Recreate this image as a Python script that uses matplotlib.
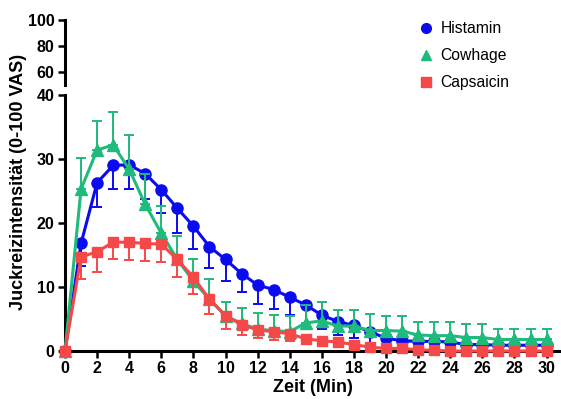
import numpy as np
import matplotlib
matplotlib.use("Agg")
import matplotlib.pyplot as plt
from matplotlib.lines import Line2D

plt.rcParams['font.family'] = ['Liberation Sans', 'DejaVu Sans']

# Zeit in Minuten
zeit = list(range(31))

histamin = [0, 16.8, 26.3, 29.0, 29.1, 27.7, 25.2, 22.3, 19.5, 16.3, 14.3,
            12.1, 10.3, 9.6, 8.4, 7.2, 5.6, 4.6, 4.0, 3.0, 2.0,
            1.6, 1.5, 1.5, 1.4, 1.0, 1.0, 0.9, 0.9, 0.9, 0.9]
histamin_err = [0, 3.5, 3.8, 3.7, 3.8, 3.9, 3.7, 3.8, 3.6, 3.4, 3.3,
                2.9, 3.0, 3.1, 2.8, 3.4, 2.2, 2.1, 2.0, 1.7, 1.3,
                1.2, 1.1, 1.1, 1.0, 0.9, 0.9, 0.8, 0.8, 0.8, 0.8]

cowhage = [0, 25.3, 31.4, 32.2, 28.4, 22.9, 18.4, 14.3, 10.9, 8.1, 5.5,
           4.3, 3.4, 3.2, 3.0, 4.4, 4.7, 3.9, 3.9, 3.2, 3.2,
           3.1, 2.5, 2.4, 2.4, 2.1, 2.1, 1.8, 1.8, 1.8, 1.8]
cowhage_err = [0, 4.8, 4.6, 5.1, 5.3, 4.8, 4.3, 3.7, 3.4, 3.1, 2.2,
               2.4, 2.5, 2.4, 2.4, 2.8, 3.0, 2.5, 2.5, 2.6, 2.3,
               2.3, 2.1, 2.1, 2.1, 2.1, 2.1, 1.7, 1.7, 1.6, 1.7]

capsaicin = [0, 14.7, 15.5, 17.0, 17.0, 16.8, 16.7, 14.3, 11.5, 8.1, 5.5,
             4.1, 3.3, 3.0, 2.7, 1.9, 1.6, 1.4, 1.0, 0.6, 0.4,
             0.4, 0.2, 0.1, 0.0, 0.0, 0.0, 0.0, 0.0, 0.0, 0.0]
capsaicin_err = [0, 3.5, 3.1, 2.7, 2.8, 2.8, 2.8, 2.8, 2.6, 2.3, 2.0,
                 1.6, 1.2, 1.3, 1.1, 0.8, 0.6, 0.5, 0.4, 0.3, 0.2,
                 0.2, 0.1, 0.1, 0, 0, 0, 0, 0, 0, 0]

namen = ['Histamin', 'Cowhage', 'Capsaicin']
farben = ['#0b0bf0', '#1fba7c', '#f54848']
marker = ['o', '^', 's']

fig = plt.figure(figsize=(5.61, 3.99), dpi=100)
ax = fig.add_axes([65 / 561, 48 / 399, 496 / 561, 256 / 399])
ax_top = fig.add_axes([65 / 561, 314 / 399, 496 / 561, 65 / 399])

zeros = np.zeros(len(zeit))
# red first, then blue, green on top
reihen = [
    (capsaicin, [capsaicin_err, zeros], 2),
    (histamin, [histamin_err, zeros], 0),
    (cowhage, [zeros, cowhage_err], 1),
]
for werte, fehler, i in reihen:
    ax.errorbar(zeit, werte, yerr=fehler, color=farben[i], marker=marker[i],
                markersize=8 if i != 2 else 7.5, linewidth=2.2, elinewidth=1.4,
                capsize=3.8, capthick=1.4, clip_on=False, zorder=3 + i)

for a in (ax, ax_top):
    a.spines['top'].set_visible(False)
    a.spines['right'].set_visible(False)
    a.spines['left'].set_linewidth(2.2)
    a.tick_params(axis='both', width=1.8, length=5, labelsize=11.5, pad=2.5)

ax.spines['bottom'].set_linewidth(2.2)
ax.set_xlim(0, 30.9)
ax.set_ylim(0, 40)
ax.set_xticks(range(0, 31, 2))
ax.set_yticks([0, 10, 20, 30, 40])
for lab in ax.get_yticklabels() + ax.get_xticklabels():
    lab.set_fontweight('bold')

ax_top.spines['bottom'].set_visible(False)
ax_top.set_xlim(0, 30.9)
ax_top.set_ylim(50, 100)
ax_top.set_yticks([60, 80, 100])
ax_top.set_xticks([])
ax_top.patch.set_alpha(0)
for lab in ax_top.get_yticklabels():
    lab.set_fontweight('bold')

fig.text(313 / 561, 1 - 388 / 399, 'Zeit (Min)', ha='center', va='center',
         fontsize=13, fontweight='bold')
fig.text(19 / 561, 1 - 182 / 399, 'Juckreizintensität (0-100 VAS)',
         ha='center', va='center', rotation=90, fontsize=13, fontweight='bold')

handles = [Line2D([], [], color=farben[i], marker=marker[i], linestyle='none',
                  markersize=7 if i != 2 else 6.5) for i in range(3)]
fig.legend(handles, namen, loc='upper left', bbox_to_anchor=(410 / 561, 1 - 15 / 399),
           frameon=False, fontsize=11.3, labelspacing=0.76, handletextpad=0.35,
           handlelength=1.2, borderaxespad=0)

fig.savefig('out.png', dpi=100)
